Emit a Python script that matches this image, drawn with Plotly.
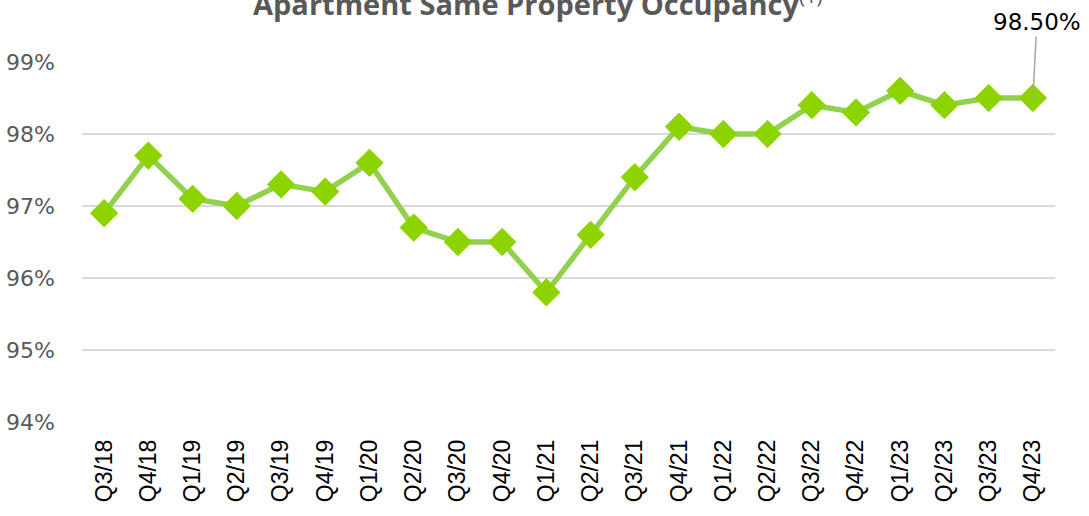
import plotly.graph_objects as go

quarters = ["Q3/18","Q4/18","Q1/19","Q2/19","Q3/19","Q4/19","Q1/20","Q2/20","Q3/20","Q4/20",
            "Q1/21","Q2/21","Q3/21","Q4/21","Q1/22","Q2/22","Q3/22","Q4/22","Q1/23","Q2/23","Q3/23","Q4/23"]
occupancy = [96.9, 97.7, 97.1, 97.0, 97.3, 97.2, 97.6, 96.7, 96.5, 96.5,
             95.8, 96.6, 97.4, 98.1, 98.0, 98.0, 98.4, 98.3, 98.6, 98.4, 98.5, 98.5]
y_ticks = [94, 95, 96, 97, 98, 99]
y_tick_labels = ["94%", "95%", "96%", "97%", "98%", "99%"]
title_text = "<b>Apartment Same Property Occupancy</b><sup>(1)</sup>"
last_label = "98.50%"

fig = go.Figure()
fig.add_trace(go.Scatter(
    x=quarters, y=occupancy, mode="lines+markers",
    line=dict(color="#92D050", width=5.5),
    marker=dict(symbol="diamond", size=21, color="#8DD300", line=dict(width=1, color="#8DD300")),
    hoverinfo="x+y", showlegend=False,
))

fig.add_annotation(
    x=quarters[-1], y=occupancy[-1], xref="x", yref="y",
    text=last_label, showarrow=True, arrowhead=0, arrowwidth=1.5, arrowcolor="#A6A6A6",
    ax=4, ay=-76, font=dict(family="DejaVu Sans", size=23, color="#000000"),
)

fig.add_annotation(
    x=0.5, y=1, xref="paper", yref="paper", yanchor="middle", yshift=60, xshift=-31,
    text=title_text, showarrow=False,
    font=dict(family="Open Sans", size=29, color="#595959"),
)

fig.update_layout(
    width=1089, height=516,
    margin=dict(l=82, r=34, t=62, b=94, autoexpand=False),
    plot_bgcolor="white", paper_bgcolor="white",
    xaxis=dict(
        type="category", range=[-0.5, len(quarters) - 0.5], automargin=False,
        tickangle=-90, tickfont=dict(family="Liberation Sans", size=23, color="#000000"),
        showgrid=False, showline=False, ticks="", zeroline=False, ticklabelstandoff=12,
    ),
    yaxis=dict(
        range=[94, 99], tickvals=y_ticks, ticktext=y_tick_labels, automargin=False,
        tickfont=dict(family="DejaVu Sans", size=22, color="#595959"),
        showgrid=True, gridcolor="#D9D9D9", gridwidth=2, zeroline=False,
        showline=False, ticks="", ticklabelstandoff=26,
    ),
)

fig.write_html("out.html", config={"displayModeBar": False},
               post_script="document.body.style.margin='0';")
